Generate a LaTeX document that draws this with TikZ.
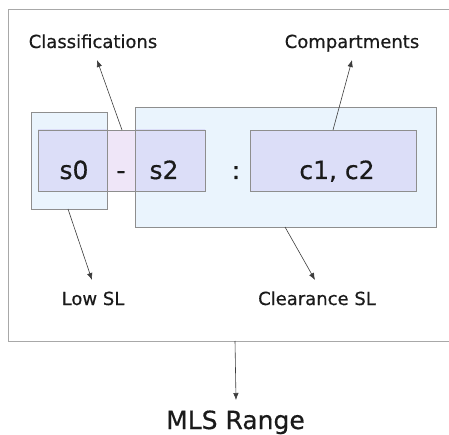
\documentclass[tikz,border=0pt]{standalone}
\usepackage{fontspec}
\setmainfont{DejaVu Sans}[FakeBold=0.5]
\usetikzlibrary{arrows.meta}
\definecolor{paleblue}{HTML}{EAF4FD}
\definecolor{lavender}{HTML}{EFE6F8}
\definecolor{overlap}{HTML}{DCDEF8}
\definecolor{edge}{HTML}{8E8E8E}
\definecolor{frameedge}{HTML}{A8A8A8}
\definecolor{ink}{HTML}{1A1A1A}
\tikzset{
  x=1pt, y=1pt,
  box/.style={rectangle, inner sep=0pt, outer sep=0pt},
  outline/.style={draw=edge, line width=0.9pt},
  label/.style={font=\fontsize{18}{20}\selectfont, text=ink, anchor=base},
  big/.style={font=\fontsize{25}{28}\selectfont, text=ink, anchor=base},
  pointer/.style={draw=ink!85, line width=0.6pt, -{Latex[length=7pt,width=5.5pt]}},
}
\begin{document}
\begin{tikzpicture}
  \useasboundingbox (0,0) rectangle (449,434);
  % surrounding frame, running off the right edge
  \begin{scope}
    \clip (0,0) rectangle (449,434);
    \draw[frameedge, line width=1pt] (470,424) -- (8,424) -- (8,93) -- (470,93);
  \end{scope}

  % security-level boxes (pale blue) and the level/compartment boxes
  \node[box, fill=paleblue, minimum width=76, minimum height=97] (low) at (69,273.5) {};
  \node[box, fill=paleblue, minimum width=301, minimum height=120] (clr) at (285.5,267) {};
  \node[box, fill=lavender, minimum width=167, minimum height=61] (cls) at (121.5,273.5) {};
  \begin{scope}
    \clip (cls.south west) rectangle (cls.north east);
    \fill[overlap] (low.south west) rectangle (low.north east);
    \fill[overlap] (clr.south west) rectangle (clr.north east);
  \end{scope}
  \node[box, fill=overlap, minimum width=166, minimum height=61] (cmp) at (333,273.5) {};

  % all outlines stay visible through the fills
  \draw[outline] (low.south west) rectangle (low.north east);
  \draw[outline] (clr.south west) rectangle (clr.north east);
  \draw[outline] (cls.south west) rectangle (cls.north east);
  \draw[outline] (cmp.south west) rectangle (cmp.north east);

  % the range text
  \node[big] (s0) at (74,255) {s0};
  \node[big] (dash) at (121,255) {-};
  \node[big] (s2) at (164,255) {s2};
  \node[big] (colon) at (236,255) {:};
  \node[big] (cc) at (337,255) {c1, c2};

  % labels
  \node[label] (lclass) at (93,386) {Classifications};
  \node[label] (lcomp) at (352,386) {Compartments};
  \node[label] (llow) at (93,129) {Low SL};
  \node[label] (lclr) at (317,129) {Clearance SL};
  \node[big] (lmls) at (235.5,5) {MLS Range};

  % pointer end points
  \coordinate (pclass) at (122,304);
  \coordinate (tclass) at (97,374);
  \coordinate (pcomp) at (333,304);
  \coordinate (tcomp) at (352,374);
  \coordinate (plow) at (68,225);
  \coordinate (tlow) at (92,154);
  \coordinate (pclr) at (285,207);
  \coordinate (tclr) at (315,154);
  \coordinate (pmls) at (235,93);
  \coordinate (tmls) at (236,34);

  \draw[pointer] (pclass) -- (tclass);
  \draw[pointer] (pcomp) -- (tcomp);
  \draw[pointer] (plow) -- (tlow);
  \draw[pointer] (pclr) -- (tclr);
  \draw[pointer] (pmls) -- (tmls);
\end{tikzpicture}
\end{document}
